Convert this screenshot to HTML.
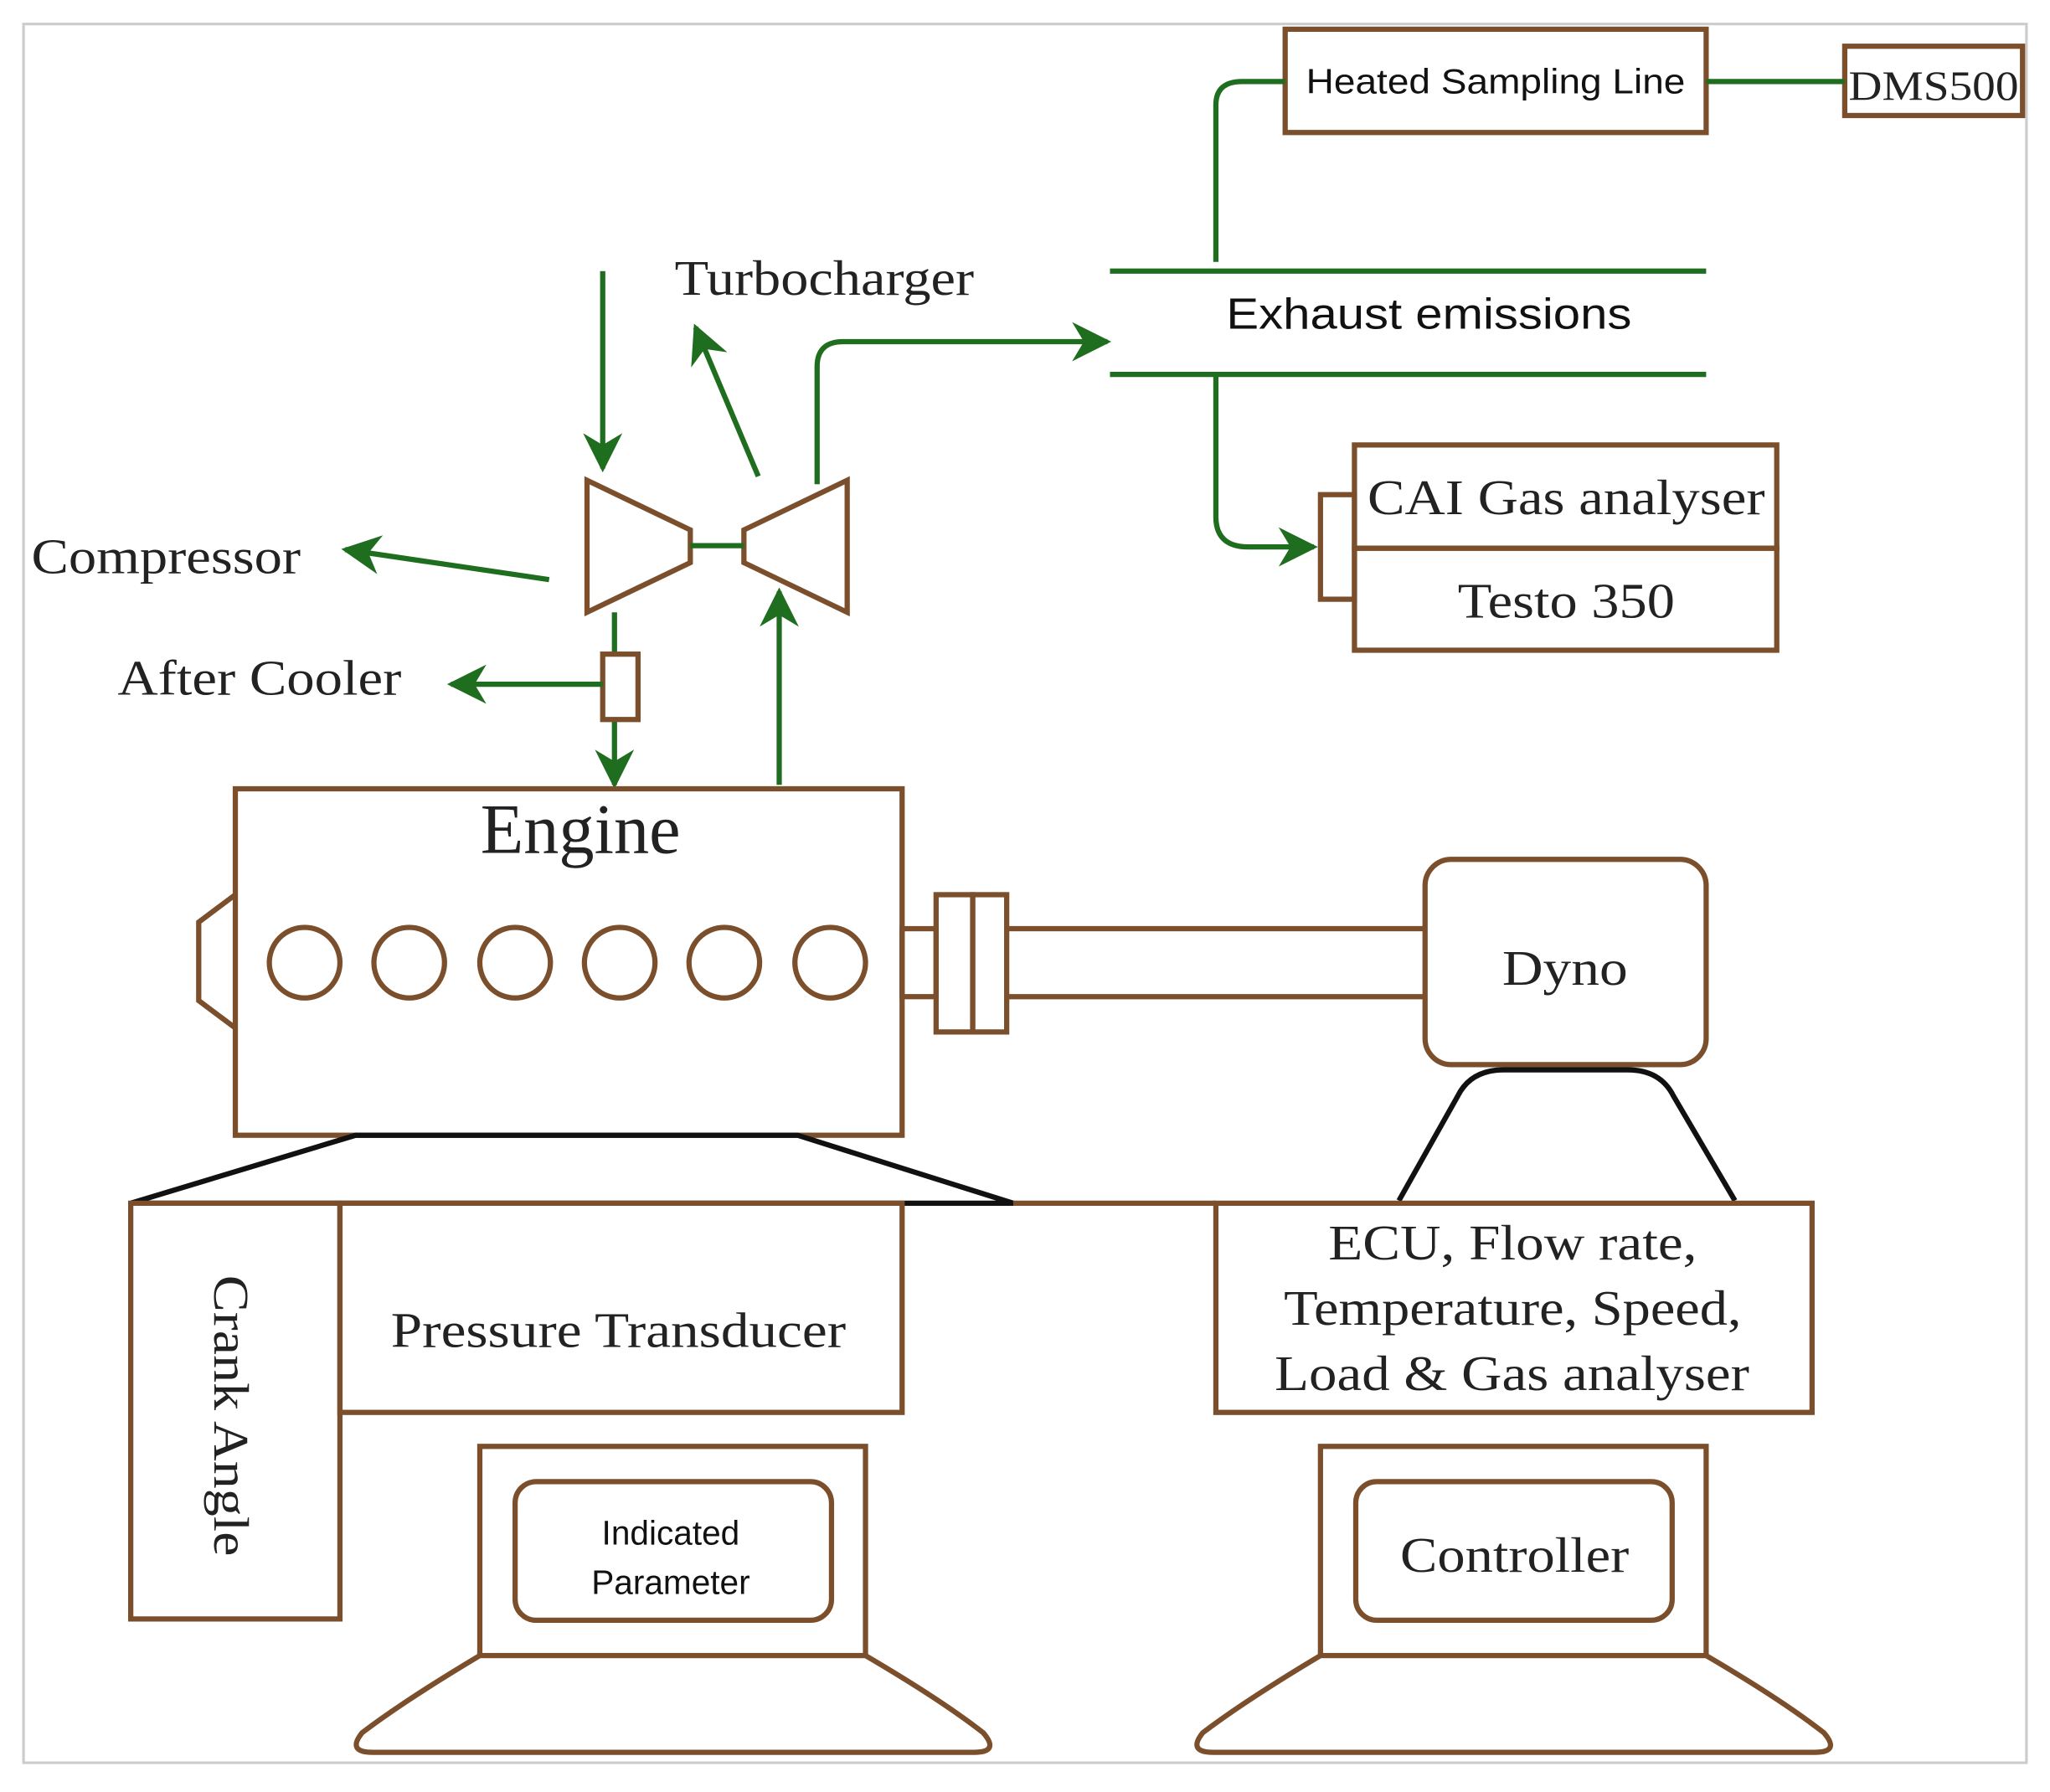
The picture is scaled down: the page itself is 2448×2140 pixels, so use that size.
<!DOCTYPE html>
<html><head><meta charset="utf-8"><style>
html,body{margin:0;padding:0;background:#fff;}
svg{display:block;}
.b{fill:none;stroke:#7b4f2c;stroke-width:4;}
.g{fill:none;stroke:#1f6d1f;stroke-width:4;}
.k{fill:none;stroke:#111;stroke-width:4;}
.s{font-family:"Liberation Serif",serif;fill:#222;}
.a{font-family:"Liberation Sans",sans-serif;fill:#111;}
</style></head><body>
<svg width="2448" height="2140" viewBox="0 0 1568 1370" xmlns="http://www.w3.org/2000/svg">
<defs>
<marker id="ar2" viewBox="0 0 10 10" refX="9" refY="5" markerWidth="30" markerHeight="30" orient="auto" markerUnits="userSpaceOnUse">
<path d="M0,0 L10,5 L0,10 L3,5 z" fill="#1f6d1f"/></marker>
</defs>
<rect x="18" y="18" width="1532" height="1330" fill="none" stroke="#ccc" stroke-width="2"/>

<rect class="b" x="983" y="22" width="322" height="79"/>
<text class="a" x="999" y="71" font-size="27" textLength="290" lengthAdjust="spacingAndGlyphs">Heated Sampling Line</text>
<rect class="b" x="1411" y="35" width="136" height="53"/>
<text class="s" x="1414" y="76" font-size="32" textLength="130" lengthAdjust="spacingAndGlyphs">DMS500</text>
<path class="g" d="M1305,62 H1411"/>
<path class="g" d="M930,200 V80 Q930,62 950,62 H983"/>

<path class="g" d="M849,207 H1305 M849,286 H1305"/>
<text class="a" x="938" y="251" font-size="33" textLength="310" lengthAdjust="spacingAndGlyphs">Exhaust emissions</text>
<path class="g" d="M930,286 V395 Q930,418 955,418 H1005" marker-end="url(#ar2)"/>
<path class="g" d="M625,370 V280 Q625,261 645,261 H847" marker-end="url(#ar2)"/>

<rect class="b" x="1036" y="340" width="323" height="79"/>
<rect class="b" x="1036" y="419" width="323" height="78"/>
<rect class="b" x="1010" y="378" width="26" height="80"/>
<text class="s" x="1046" y="393" font-size="38" textLength="304" lengthAdjust="spacingAndGlyphs">CAI Gas analyser</text>
<text class="s" x="1115" y="472" font-size="38" textLength="166" lengthAdjust="spacingAndGlyphs">Testo 350</text>

<path class="b" d="M449,367 L528,405 L528,430 L449,468 Z"/>
<path class="b" d="M648,367 L569,405 L569,430 L648,468 Z"/>
<path class="g" d="M528,417 H569"/>
<path class="g" d="M461,207 V358" marker-end="url(#ar2)"/>
<path class="g" d="M580,364 L532,250" marker-end="url(#ar2)"/>
<path class="g" d="M420,443 L264,420" marker-end="url(#ar2)"/>
<path class="g" d="M596,600 V452" marker-end="url(#ar2)"/>
<path class="g" d="M470,468 V500 M470,550 V600" marker-end="url(#ar2)"/>
<rect class="b" x="461" y="500" width="27" height="50"/>
<path class="g" d="M461,523 H345" marker-end="url(#ar2)"/>
<text class="s" x="516" y="225" font-size="38" textLength="229" lengthAdjust="spacingAndGlyphs">Turbocharger</text>
<text class="s" x="24" y="438" font-size="38" textLength="206" lengthAdjust="spacingAndGlyphs">Compressor</text>
<text class="s" x="90" y="531" font-size="38" textLength="217" lengthAdjust="spacingAndGlyphs">After Cooler</text>

<rect class="b" x="180" y="603" width="510" height="265"/>
<text class="s" x="444" y="652" font-size="54" text-anchor="middle">Engine</text>
<path class="b" d="M180,684 L152,705 V765 L180,786"/>
<g class="b">
<circle cx="233" cy="736" r="27"/><circle cx="313" cy="736" r="27"/><circle cx="394" cy="736" r="27"/>
<circle cx="474" cy="736" r="27"/><circle cx="554" cy="736" r="27"/><circle cx="635" cy="736" r="27"/>
</g>
<rect class="b" x="690" y="710" width="26" height="52"/>
<rect class="b" x="716" y="684" width="28" height="105"/>
<rect class="b" x="744" y="684" width="26" height="105"/>
<path class="b" d="M770,710 H1090 M770,762 H1090"/>
<rect class="b" x="1090" y="657" width="215" height="157" rx="20"/>
<text class="s" x="1149" y="753" font-size="38" textLength="96" lengthAdjust="spacingAndGlyphs">Dyno</text>
<path class="k" d="M1070,918 L1115,838 Q1125,818 1150,818 H1245 Q1270,818 1280,838 L1327,918"/>

<path class="k" d="M100,920 L272,868 H610 L775,920 Z"/>
<path class="b" d="M775,920 H930"/>
<rect class="b" x="100" y="920" width="160" height="318"/>
<rect class="b" x="260" y="920" width="430" height="160"/>
<text class="s" x="299" y="1030" font-size="38" textLength="348" lengthAdjust="spacingAndGlyphs">Pressure Transducer</text>
<text class="s" font-size="38" textLength="215" lengthAdjust="spacingAndGlyphs" transform="translate(164,975) rotate(90)">Crank Angle</text>

<rect class="b" x="930" y="920" width="456" height="160"/>
<text class="s" x="1016" y="963" font-size="38" textLength="282" lengthAdjust="spacingAndGlyphs">ECU, Flow rate,</text>
<text class="s" x="982" y="1013" font-size="38" textLength="350" lengthAdjust="spacingAndGlyphs">Temperature, Speed,</text>
<text class="s" x="975" y="1063" font-size="38" textLength="363" lengthAdjust="spacingAndGlyphs">Load &amp; Gas analyser</text>

<rect class="b" x="367" y="1106" width="295" height="160"/>
<rect class="b" x="394" y="1133" width="242" height="106" rx="16"/>
<text class="a" x="513" y="1181" font-size="26" text-anchor="middle">Indicated</text>
<text class="a" x="513" y="1219" font-size="26" text-anchor="middle">Parameter</text>
<path class="b" d="M367,1266 Q310,1300 277,1325 Q265,1340 285,1340 H745 Q765,1340 752,1325 Q720,1300 662,1266"/>

<rect class="b" x="1010" y="1106" width="295" height="160"/>
<rect class="b" x="1037" y="1133" width="242" height="106" rx="16"/>
<text class="s" x="1071" y="1202" font-size="38" textLength="175" lengthAdjust="spacingAndGlyphs">Controller</text>
<path class="b" d="M1010,1266 Q953,1300 920,1325 Q908,1340 928,1340 H1388 Q1408,1340 1395,1325 Q1363,1300 1305,1266"/>
</svg>
</body></html>
